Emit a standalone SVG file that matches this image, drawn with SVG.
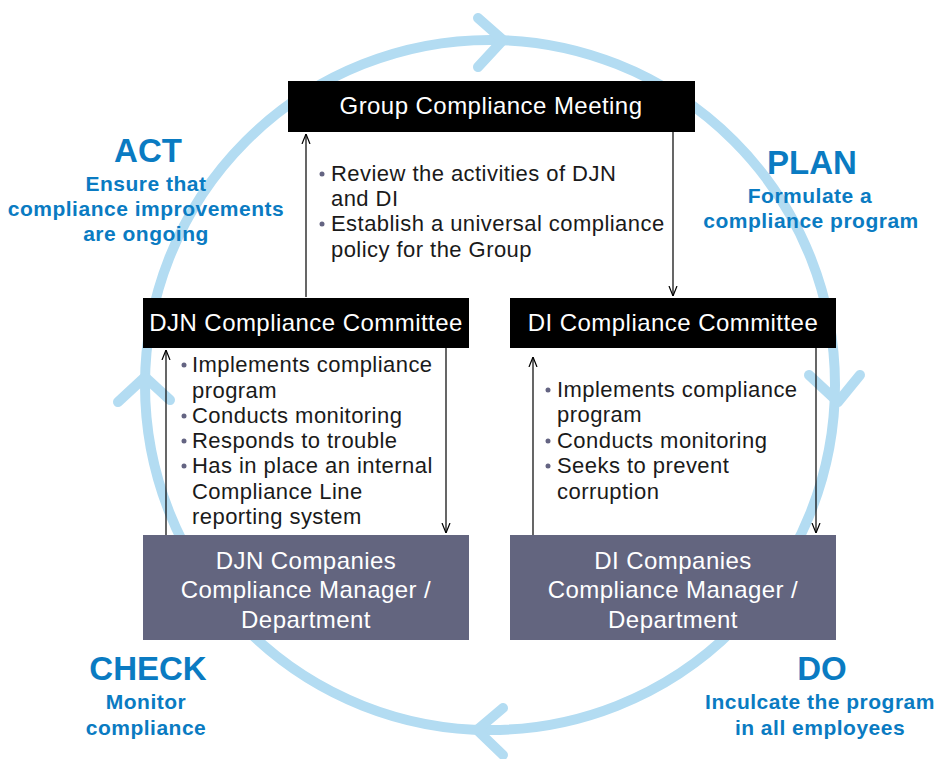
<svg xmlns="http://www.w3.org/2000/svg" width="939" height="759" viewBox="0 0 939 759">
<defs>
<style>
.cyc{fill:none;stroke:#b3dcf2;stroke-width:10;stroke-linecap:round;stroke-linejoin:round}
.blk{fill:#000}
.gry{fill:#63657f}
.ht{font-family:"Liberation Sans",Arial,sans-serif;font-size:24px;letter-spacing:0.45px;fill:#fff;text-anchor:middle}
.bt{font-family:"Liberation Sans",Arial,sans-serif;font-size:22px;letter-spacing:0.45px;fill:#1a1a1a}
.bul{fill:#646482}
.ph{font-family:"Liberation Sans",Arial,sans-serif;font-weight:bold;fill:#0a7bc2;text-anchor:middle}
.big{font-size:33px}
.sm{font-size:21px;letter-spacing:0.5px}
.con{stroke:#000;stroke-width:1.2;fill:none}
</style>
<marker id="ah" viewBox="0 0 10 10" refX="10" refY="5" markerWidth="10" markerHeight="10" markerUnits="userSpaceOnUse" orient="auto">
<path d="M0,1 L10,5 L0,9" fill="none" stroke="#000" stroke-width="1.2"/>
</marker>
</defs>
<rect width="939" height="759" fill="#fff"/>
<g id="cycle">
<circle class="cyc" cx="490" cy="385" r="345"/>
<path class="cyc" d="M478,18 L503,40 L478,67"/>
<path class="cyc" d="M809,375 L838,402 L860,375"/>
<path class="cyc" d="M503,708 L477,730 L503,755"/>
<path class="cyc" d="M118,402 L145,377 L170,400"/>
</g>
<g id="connectors">
<line class="con" x1="306" y1="297" x2="306" y2="134" marker-end="url(#ah)"/>
<line class="con" x1="673" y1="132" x2="673" y2="296" marker-end="url(#ah)"/>
<line class="con" x1="166" y1="535" x2="166" y2="350" marker-end="url(#ah)"/>
<line class="con" x1="446" y1="348" x2="446" y2="533" marker-end="url(#ah)"/>
<line class="con" x1="533" y1="535" x2="533" y2="357" marker-end="url(#ah)"/>
<line class="con" x1="816" y1="348" x2="816" y2="533" marker-end="url(#ah)"/>
</g>
<g id="group-meeting">
<rect class="blk" x="288" y="81" width="407" height="51"/>
<text class="ht" x="491" y="114">Group Compliance Meeting</text>
</g>
<g id="group-notes">
<circle class="bul" cx="322" cy="174" r="2.5"/>
<circle class="bul" cx="322" cy="224" r="2.5"/>
<text class="bt" x="331" y="181">Review the activities of DJN</text>
<text class="bt" x="331" y="206">and DI</text>
<text class="bt" x="331" y="231">Establish a universal compliance</text>
<text class="bt" x="331" y="257">policy for the Group</text>
</g>
<g id="djn-committee">
<rect class="blk" x="143" y="298" width="326" height="50"/>
<text class="ht" x="306" y="331">DJN Compliance Committee</text>
</g>
<g id="di-committee">
<rect class="blk" x="510" y="298" width="326" height="50"/>
<text class="ht" x="673" y="331">DI Compliance Committee</text>
</g>
<g id="djn-notes">
<circle class="bul" cx="184" cy="365" r="2.5"/>
<circle class="bul" cx="184" cy="416" r="2.5"/>
<circle class="bul" cx="184" cy="441" r="2.5"/>
<circle class="bul" cx="184" cy="466" r="2.5"/>
<text class="bt" x="192" y="372">Implements compliance</text>
<text class="bt" x="192" y="398">program</text>
<text class="bt" x="192" y="423">Conducts monitoring</text>
<text class="bt" x="192" y="448">Responds to trouble</text>
<text class="bt" x="192" y="473">Has in place an internal</text>
<text class="bt" x="192" y="499">Compliance Line</text>
<text class="bt" x="192" y="524">reporting system</text>
</g>
<g id="di-notes">
<circle class="bul" cx="548" cy="390" r="2.5"/>
<circle class="bul" cx="548" cy="441" r="2.5"/>
<circle class="bul" cx="548" cy="466" r="2.5"/>
<text class="bt" x="557" y="397">Implements compliance</text>
<text class="bt" x="557" y="422">program</text>
<text class="bt" x="557" y="448">Conducts monitoring</text>
<text class="bt" x="557" y="473">Seeks to prevent</text>
<text class="bt" x="557" y="499">corruption</text>
</g>
<g id="djn-companies">
<rect class="gry" x="143" y="535" width="326" height="105"/>
<text class="ht" x="306" y="569">DJN Companies</text>
<text class="ht" x="306" y="598">Compliance Manager /</text>
<text class="ht" x="306" y="628">Department</text>
</g>
<g id="di-companies">
<rect class="gry" x="510" y="535" width="326" height="105"/>
<text class="ht" x="673" y="569">DI Companies</text>
<text class="ht" x="673" y="598">Compliance Manager /</text>
<text class="ht" x="673" y="628">Department</text>
</g>
<g id="act">
<text class="ph big" x="148" y="162">ACT</text>
<text class="ph sm" x="146" y="191">Ensure that</text>
<text class="ph sm" x="146" y="216">compliance improvements</text>
<text class="ph sm" x="146" y="241">are ongoing</text>
</g>
<g id="plan">
<text class="ph big" x="812" y="174">PLAN</text>
<text class="ph sm" x="810" y="203">Formulate a</text>
<text class="ph sm" x="811" y="228">compliance program</text>
</g>
<g id="check">
<text class="ph big" x="148" y="680">CHECK</text>
<text class="ph sm" x="146" y="709">Monitor</text>
<text class="ph sm" x="146" y="735">compliance</text>
</g>
<g id="do">
<text class="ph big" x="822" y="680">DO</text>
<text class="ph sm" x="820" y="709">Inculcate the program</text>
<text class="ph sm" x="820" y="735">in all employees</text>
</g>
</svg>
